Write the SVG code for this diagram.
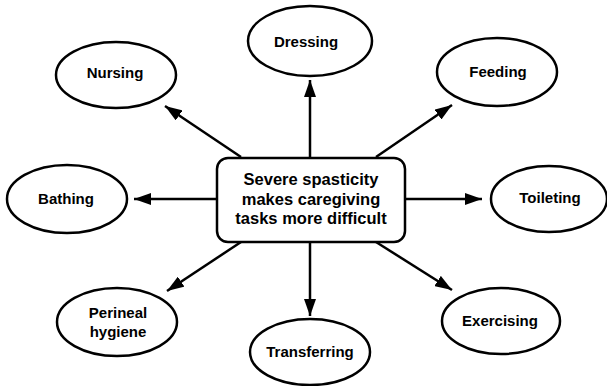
<svg xmlns="http://www.w3.org/2000/svg" width="607" height="386" viewBox="0 0 607 386">
<style>
  .node ellipse { fill: #fff; stroke: #000; stroke-width: 2.5; }
  .node rect { fill: #fff; stroke: #000; stroke-width: 2.5; }
  text { font-family: "Liberation Sans", Arial, sans-serif; font-weight: bold; fill: #000; text-anchor: middle; }
  .lbl { font-size: 15px; }
  .ctr { font-size: 16.5px; }
  #connectors line { stroke: #000; stroke-width: 2.5; marker-end: url(#arrow); }
</style>
<defs>
  <marker id="arrow" markerUnits="userSpaceOnUse" markerWidth="17" markerHeight="12" refX="17" refY="6" orient="auto">
    <path d="M0,0 L17,6 L0,12 Z" fill="#000"/>
  </marker>
</defs>
<rect width="607" height="386" fill="#fff"/>
<g id="connectors">
  <line x1="310" y1="158" x2="310" y2="80"/>
  <line x1="241" y1="157" x2="165" y2="106"/>
  <line x1="376" y1="157" x2="452" y2="105"/>
  <line x1="217" y1="199" x2="134" y2="199"/>
  <line x1="405" y1="199" x2="482" y2="199"/>
  <line x1="241" y1="242" x2="167" y2="291"/>
  <line x1="310" y1="242" x2="310" y2="316"/>
  <line x1="376" y1="242" x2="452" y2="290"/>
</g>
<g id="center" class="node">
  <rect x="217" y="158" width="188" height="84" rx="11" ry="11"/>
  <text class="ctr" x="311" y="185">Severe spasticity</text>
  <text class="ctr" x="311" y="205">makes caregiving</text>
  <text class="ctr" x="311" y="224">tasks more difficult</text>
</g>
<g id="dressing" class="node">
  <ellipse cx="310" cy="41" rx="62" ry="35"/>
  <text class="lbl" x="306" y="47">Dressing</text>
</g>
<g id="nursing" class="node">
  <ellipse cx="116" cy="75" rx="60" ry="33"/>
  <text class="lbl" x="115" y="78">Nursing</text>
</g>
<g id="feeding" class="node">
  <ellipse cx="497" cy="72" rx="60" ry="34"/>
  <text class="lbl" x="498" y="77">Feeding</text>
</g>
<g id="bathing" class="node">
  <ellipse cx="67" cy="199" rx="60" ry="34"/>
  <text class="lbl" x="66" y="204">Bathing</text>
</g>
<g id="toileting" class="node">
  <ellipse cx="549" cy="199" rx="58" ry="33"/>
  <text class="lbl" x="550" y="203">Toileting</text>
</g>
<g id="perineal" class="node">
  <ellipse cx="117" cy="322" rx="60" ry="34"/>
  <text class="lbl" x="118" y="318">Perineal</text>
  <text class="lbl" x="118" y="337">hygiene</text>
</g>
<g id="transferring" class="node">
  <ellipse cx="310" cy="352" rx="60" ry="33"/>
  <text class="lbl" x="310" y="357">Transferring</text>
</g>
<g id="exercising" class="node">
  <ellipse cx="501" cy="321" rx="59" ry="33"/>
  <text class="lbl" x="500" y="326">Exercising</text>
</g>
</svg>
